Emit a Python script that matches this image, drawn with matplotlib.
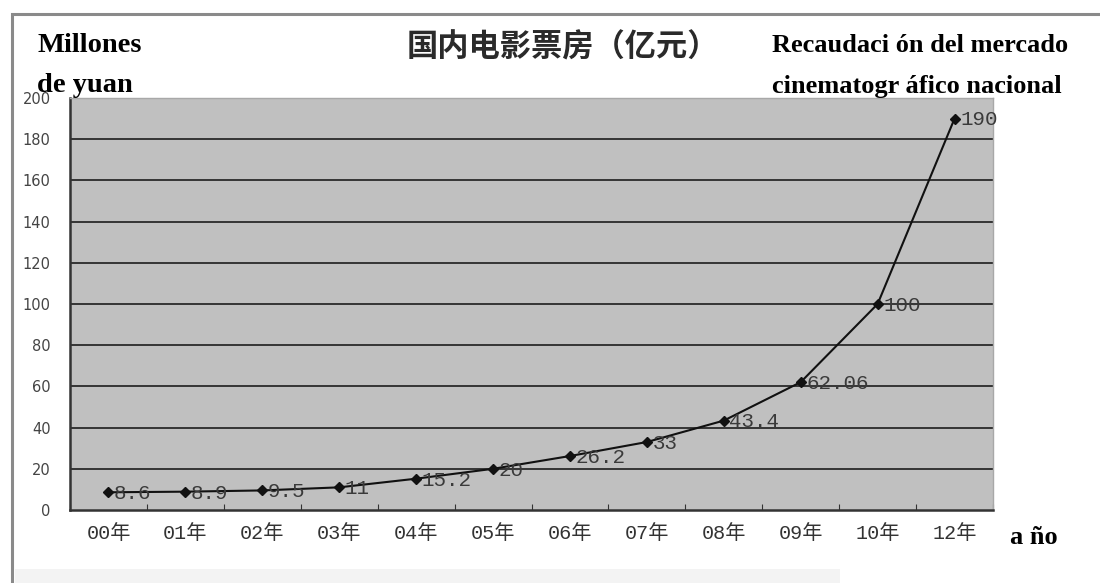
import matplotlib
matplotlib.use("Agg")
import matplotlib.pyplot as plt
from matplotlib.patches import Rectangle
import numpy as np

years = ["00年", "01年", "02年", "03年", "04年", "05年", "06年", "07年", "08年", "09年", "10年", "12年"]
box_office = [8.6, 8.9, 9.5, 11, 15.2, 20, 26.2, 33, 43.4, 62.06, 100, 190]
point_labels = ["8.6", "8.9", "9.5", "11", "15.2", "20", "26.2", "33", "43.4", "62.06", "100", "190"]
y_ticks = [0, 20, 40, 60, 80, 100, 120, 140, 160, 180, 200]

W, H = 1100, 583
fig = plt.figure(figsize=(W / 100, H / 100), dpi=100)
fig.patch.set_facecolor("white")

# outer frame
fig.patches.append(Rectangle((12 / W, -0.05), 1.2, (H - 14) / H + 0.05, transform=fig.transFigure,
                             facecolor="none", edgecolor="#8a8a8a", lw=2.2, zorder=0))
fig.patches.append(Rectangle((15 / W, 0), (840 - 15) / W, 14 / H, transform=fig.transFigure,
                             facecolor="#f3f3f3", edgecolor="none", zorder=0))

ax = fig.add_axes([70 / W, 1 - 510 / H, (993 - 70) / W, (510 - 98) / H])
ax.set_facecolor("#c0c0c0")
x = np.arange(len(years))
ax.set_xlim(-0.5, len(years) - 0.5)
ax.set_ylim(0, 200)

for t in y_ticks[1:-1]:
    ax.axhline(t, color="#2a2a2a", lw=1.3, zorder=1)

ax.plot(x, box_office, color="#111111", lw=1.5, marker="D", markersize=5.5, zorder=3)
for xi, v, lab in zip(x, box_office, point_labels):
    ax.annotate(lab, (xi, v), xytext=(4, -1), textcoords="offset points", ha="left", va="center",
                fontsize=15, color="#3a3a3a", family="Liberation Mono", zorder=4)

ax.set_yticks(y_ticks)
ax.set_yticklabels([str(t) for t in y_ticks], fontsize=10.5, color="#444444")
ax.tick_params(axis="y", length=0, pad=14)

ax.set_xticks(np.arange(len(years) + 1) - 0.5, minor=False)
ax.set_xticklabels([])
ax.set_xticks(x, minor=True)
ax.set_xticklabels(years, minor=True, fontsize=14.5, color="#333333",
                   family=["Liberation Mono", "Noto Sans CJK SC", "DejaVu Sans"])
ax.tick_params(axis="x", which="major", direction="in", length=4, color="#333333")
ax.tick_params(axis="x", which="minor", length=0, pad=10)

for s in ["left", "bottom"]:
    ax.spines[s].set_color("#333333")
    ax.spines[s].set_linewidth(1.8)
for s in ["top", "right"]:
    ax.spines[s].set_color("#a8a8a8")
    ax.spines[s].set_linewidth(1.0)

serif = "Liberation Serif"
fig.text(37 / W, 1 - 45 / H, "Millones", fontsize=20.5, fontweight="bold", family=serif, va="center", ha="left")
fig.text(37 / W, 1 - 85 / H, "de yuan", fontsize=20.5, fontweight="bold", family=serif, va="center", ha="left")
fig.text(563 / W, 1 - 48 / H, "国内电影票房（亿元）", fontsize=22.5, fontweight="bold", color="#2a2a2a",
         family=["Noto Sans CJK SC", "DejaVu Sans"], va="center", ha="center")
fig.text(772 / W, 1 - 45 / H, "Recaudaci ón del mercado", fontsize=19, fontweight="bold", family=serif,
         va="center", ha="left")
fig.text(772 / W, 1 - 87 / H, "cinematogr áfico nacional", fontsize=19, fontweight="bold", family=serif,
         va="center", ha="left")
fig.text(1010 / W, 1 - 538 / H, "a ño", fontsize=19, fontweight="bold", family=serif, va="center", ha="left")

fig.savefig("out.png", dpi=100, facecolor="white")
